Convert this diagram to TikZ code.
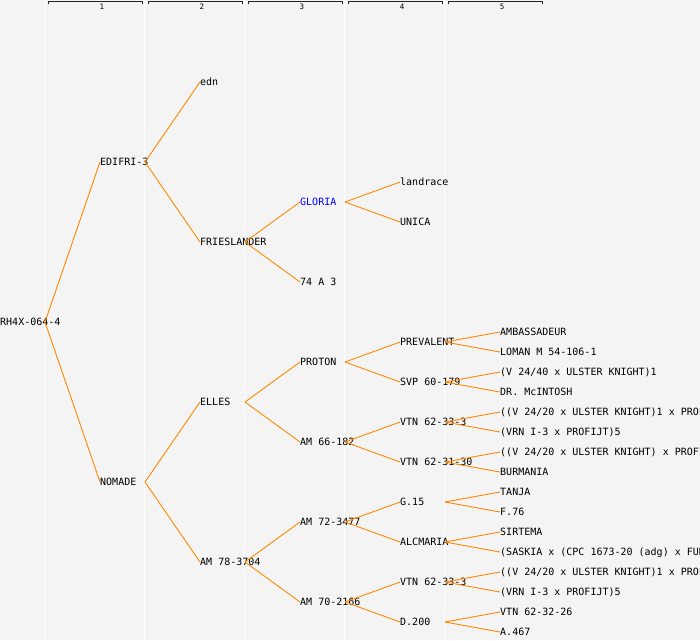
\documentclass[tikz,border=0pt]{standalone}
\usepackage{fontspec}
\setmonofont{DejaVu Sans Mono}
\usepackage{tikz}
\usetikzlibrary{positioning}
\definecolor{bggray}{RGB}{244,244,244}
\definecolor{linkorange}{RGB}{255,136,0}
\definecolor{hdrgray}{RGB}{34,34,34}

\begin{document}
\begin{tikzpicture}[x=1pt, y=-1pt,
  lab/.style={anchor=west, inner sep=0pt, text height=7.3pt, text depth=0pt,
    font=\ttfamily\fontsize{10pt}{10pt}\selectfont},
  hdr/.style={inner sep=0pt, font=\ttfamily\fontsize{7.5pt}{7.5pt}\selectfont},
  link/.style={linkorange, line width=0.9pt},
  colrule/.style={white, line width=1pt}]
\useasboundingbox (0,0) rectangle (700,640);
\clip (0,0) rectangle (700,640);
\fill [bggray] (0,0) rectangle (700,640);
% column rules
\draw [colrule] (44.5,0) -- (44.5,640);
\draw [colrule] (144.5,0) -- (144.5,640);
\draw [colrule] (244.5,0) -- (244.5,640);
\draw [colrule] (344.5,0) -- (344.5,640);
\draw [colrule] (444.5,0) -- (444.5,640);
% column headers
\draw [hdrgray, line width=0.8pt] (48,4) -- (48,1.5) -- (142,1.5) -- (142,4);
\node [hdr] (h1) at (102,6.5) {1};
\draw [hdrgray, line width=0.8pt] (148,4) -- (148,1.5) -- (242,1.5) -- (242,4);
\node [hdr] (h2) at (202,6.5) {2};
\draw [hdrgray, line width=0.8pt] (248,4) -- (248,1.5) -- (342,1.5) -- (342,4);
\node [hdr] (h3) at (302,6.5) {3};
\draw [hdrgray, line width=0.8pt] (348,4) -- (348,1.5) -- (442,1.5) -- (442,4);
\node [hdr] (h4) at (402,6.5) {4};
\draw [hdrgray, line width=0.8pt] (448,4) -- (448,1.5) -- (542,1.5) -- (542,4);
\node [hdr] (h5) at (502,6.5) {5};
% generation 0 and 1
\node [lab] (rh) at (0,322) {RH4X-064-4};
\node [lab] (edifri) at (100,162) {EDIFRI-3};
\node [lab] (nomade) at (100,482) {NOMADE};
% generation 2
\node [lab] (edn) at (200,82) {edn};
\node [lab] (fries) at (200,242) {FRIESLANDER};
\node [lab] (elles) at (200,402) {ELLES};
\node [lab] (am78) at (200,562) {AM 78-3704};
% generation 3
\node [lab, text=blue] (gloria) at (300,202) {GLORIA};
\node [lab] (a74) at (300,282) {74 A 3};
\node [lab] (proton) at (300,362) {PROTON};
\node [lab] (am66) at (300,442) {AM 66-182};
\node [lab] (am72) at (300,522) {AM 72-3477};
\node [lab] (am70) at (300,602) {AM 70-2166};
% generation 4
\node [lab] (landrace) at (400,182) {landrace};
\node [lab] (unica) at (400,222) {UNICA};
\node [lab] (prevalent) at (400,342) {PREVALENT};
\node [lab] (svp) at (400,382) {SVP 60-179};
\node [lab] (vtna) at (400,422) {VTN 62-33-3};
\node [lab] (vtnb) at (400,462) {VTN 62-31-30};
\node [lab] (g15) at (400,502) {G.15};
\node [lab] (alcmaria) at (400,542) {ALCMARIA};
\node [lab] (vtnc) at (400,582) {VTN 62-33-3};
\node [lab] (d200) at (400,622) {D.200};
% generation 5
\node [lab] (ambass) at (500,332) {AMBASSADEUR};
\node [lab] (loman) at (500,352) {LOMAN M 54-106-1};
\node [lab] (ulstera) at (500,372) {(V 24/40 x ULSTER KNIGHT)1};
\node [lab] (mcintosh) at (500,392) {DR. McINTOSH};
\node [lab] (ulsterb) at (500,412) {((V 24/20 x ULSTER KNIGHT)1 x PROF};
\node [lab] (vrna) at (500,432) {(VRN I-3 x PROFIJT)5};
\node [lab] (ulsterc) at (500,452) {((V 24/20 x ULSTER KNIGHT) x PROFI};
\node [lab] (burmania) at (500,472) {BURMANIA};
\node [lab] (tanja) at (500,492) {TANJA};
\node [lab] (f76) at (500,512) {F.76};
\node [lab] (sirtema) at (500,532) {SIRTEMA};
\node [lab] (saskia) at (500,552) {(SASKIA x (CPC 1673-20 (adg) x FUR};
\node [lab] (ulsterd) at (500,572) {((V 24/20 x ULSTER KNIGHT)1 x PROF};
\node [lab] (vrnb) at (500,592) {(VRN I-3 x PROFIJT)5};
\node [lab] (vtn3226) at (500,612) {VTN 62-32-26};
\node [lab] (a467) at (500,632) {A.467};
% connectors
\draw [link] ([xshift=45pt]rh.west) -- (edifri.west);
\draw [link] ([xshift=45pt]rh.west) -- (nomade.west);
\draw [link] ([xshift=45pt]edifri.west) -- (edn.west);
\draw [link] ([xshift=45pt]edifri.west) -- (fries.west);
\draw [link] ([xshift=45pt]nomade.west) -- (elles.west);
\draw [link] ([xshift=45pt]nomade.west) -- (am78.west);
\draw [link] ([xshift=45pt]fries.west) -- (gloria.west);
\draw [link] ([xshift=45pt]fries.west) -- (a74.west);
\draw [link] ([xshift=45pt]elles.west) -- (proton.west);
\draw [link] ([xshift=45pt]elles.west) -- (am66.west);
\draw [link] ([xshift=45pt]am78.west) -- (am72.west);
\draw [link] ([xshift=45pt]am78.west) -- (am70.west);
\draw [link] ([xshift=45pt]gloria.west) -- (landrace.west);
\draw [link] ([xshift=45pt]gloria.west) -- (unica.west);
\draw [link] ([xshift=45pt]proton.west) -- (prevalent.west);
\draw [link] ([xshift=45pt]proton.west) -- (svp.west);
\draw [link] ([xshift=45pt]am66.west) -- (vtna.west);
\draw [link] ([xshift=45pt]am66.west) -- (vtnb.west);
\draw [link] ([xshift=45pt]am72.west) -- (g15.west);
\draw [link] ([xshift=45pt]am72.west) -- (alcmaria.west);
\draw [link] ([xshift=45pt]am70.west) -- (vtnc.west);
\draw [link] ([xshift=45pt]am70.west) -- (d200.west);
\draw [link] ([xshift=45pt]prevalent.west) -- (ambass.west);
\draw [link] ([xshift=45pt]prevalent.west) -- (loman.west);
\draw [link] ([xshift=45pt]svp.west) -- (ulstera.west);
\draw [link] ([xshift=45pt]svp.west) -- (mcintosh.west);
\draw [link] ([xshift=45pt]vtna.west) -- (ulsterb.west);
\draw [link] ([xshift=45pt]vtna.west) -- (vrna.west);
\draw [link] ([xshift=45pt]vtnb.west) -- (ulsterc.west);
\draw [link] ([xshift=45pt]vtnb.west) -- (burmania.west);
\draw [link] ([xshift=45pt]g15.west) -- (tanja.west);
\draw [link] ([xshift=45pt]g15.west) -- (f76.west);
\draw [link] ([xshift=45pt]alcmaria.west) -- (sirtema.west);
\draw [link] ([xshift=45pt]alcmaria.west) -- (saskia.west);
\draw [link] ([xshift=45pt]vtnc.west) -- (ulsterd.west);
\draw [link] ([xshift=45pt]vtnc.west) -- (vrnb.west);
\draw [link] ([xshift=45pt]d200.west) -- (vtn3226.west);
\draw [link] ([xshift=45pt]d200.west) -- (a467.west);
\end{tikzpicture}
\end{document}
